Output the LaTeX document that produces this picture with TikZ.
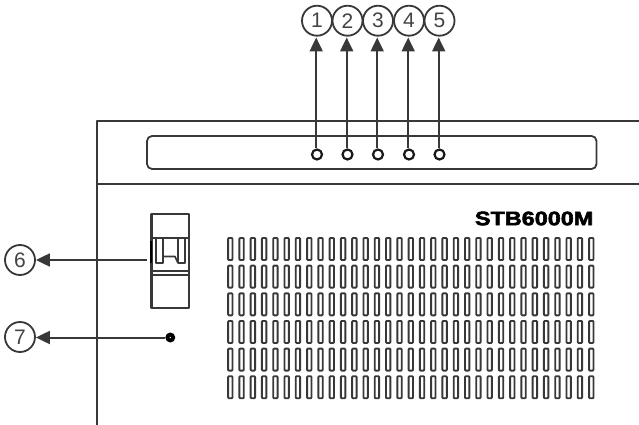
\documentclass[tikz,border=0pt]{standalone}
\usepackage{fontspec}
\usepackage{graphicx}
\setmainfont{Liberation Sans}
\newfontfamily\modelfont[FakeBold=2.5]{Liberation Sans Bold}
\usetikzlibrary{arrows.meta}
\definecolor{ink}{HTML}{383838}
\definecolor{numcol}{HTML}{444444}
\tikzset{
  every picture/.style={x=1pt,y=-1pt},
  wall/.style={draw=ink,line width=2pt},
  callout/.style={circle,draw=ink,line width=1.8pt,fill=white,minimum size=30pt,inner sep=0pt,font=\fontsize{21}{21}\selectfont,text=numcol},
  lead/.style={draw=ink,line width=2pt,-{Triangle[length=14pt,width=13pt]}},
  port/.style={circle,draw=black!90,line width=2.2pt,fill=white,minimum size=10pt,inner sep=0pt},
  slot/.style={draw=ink,line width=1.9pt,rounded corners=0.8pt},
  switchline/.style={draw=ink,line width=2pt},
}
\begin{document}
\begin{tikzpicture}[line join=round]
\useasboundingbox (0,0) rectangle (639,425);
% enclosure
\draw[wall] (639,121) -- (96.5,121) -- (96.5,425);
\draw[wall] (96.5,184) -- (639,184);
\draw[wall,line width=1.8pt,rounded corners=5pt] (147,136) rectangle (596.5,169);
% vents
\foreach \r in {0,...,5}{
  \foreach \c in {0,...,32}{
    \pgfmathsetmacro{\xx}{230.3+\c*11.28}
    \pgfmathsetmacro{\yy}{238+\r*27.65}
    \draw[slot] (\xx-2.2,\yy) rectangle (\xx+2.2,\yy+22);
  }
}
% switch
\draw[switchline,line width=2.6pt] (151.7,214) rectangle (189,308);
\draw[switchline] (152,237.5) -- (189,237.5);
\draw[switchline] (155.7,237.5) -- (155.7,262.5) -- (163,262.5) -- (163,237.5);
\draw[switchline] (185,237.5) -- (185,262.5) -- (177.7,262.5) -- (177.7,237.5);
\draw[switchline,line width=1.6pt] (163,256.5) -- (175,256.5) -- (177.7,262.5);
\draw[switchline] (152,270.5) -- (189,270.5);
\draw[switchline] (152,275) -- (189,275);
\draw[draw=black,line width=2.4pt] (151.2,241) -- (151.2,263);
% label
\node[anchor=east,inner sep=0pt,font=\modelfont\fontsize{19.5}{19.5}\selectfont] (model) at (593.5,218.5) {\scalebox{1.2}[1]{STB6000M}};
% ports and callouts
\foreach \n/\cx/\px in {1/317/317,2/347.5/347.5,3/378/378,4/409/409,5/439.5/439.5}{
  \node[callout] (c\n) at (\cx,20.7) {\n};
  \node[port] (p\n) at (\px,154.5) {};
  \draw[lead] (p\n.north) ++(-0.8,0) coordinate (s\n) -- (s\n |- 0,37.5);
}
\node[callout] (c6) at (20,260) {6};
\node[callout] (c7) at (20,337) {7};
\coordinate (sw) at (147,260);
\node[circle,fill=black,minimum size=10pt,inner sep=0pt] (dot) at (170.3,337.5) {};
\fill[white] (dot.center) circle (0.7);
\draw[lead] (sw) -- (c6.east);
\draw[lead] (dot.west) -- (c7.east |- dot.west);
\end{tikzpicture}
\end{document}
